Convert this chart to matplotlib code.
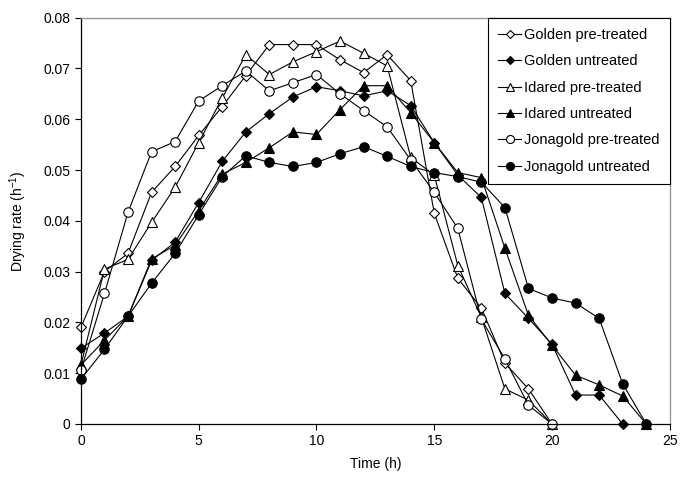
import matplotlib
matplotlib.use("Agg")
import matplotlib.pyplot as plt
from matplotlib.ticker import FuncFormatter

plt.rcParams['font.family'] = ['Liberation Sans', 'DejaVu Sans']
plt.rcParams['mathtext.fontset'] = 'custom'
plt.rcParams['mathtext.rm'] = 'Liberation Sans'
plt.rcParams['mathtext.it'] = 'Liberation Sans:italic'

hours_20 = list(range(0, 21))
hours_23 = list(range(0, 24))
hours_24 = list(range(0, 25))

golden_pre = [0.019, 0.030, 0.0336, 0.0456, 0.0507, 0.0568, 0.0625, 0.0686, 0.0747, 0.0747,
              0.0747, 0.0717, 0.0692, 0.0727, 0.0676, 0.0415, 0.0287, 0.0228, 0.012, 0.0069, 0.0]
golden_un = [0.0149, 0.0179, 0.0212, 0.0322, 0.0358, 0.0436, 0.0517, 0.0575, 0.0611, 0.0644,
             0.0664, 0.0656, 0.0646, 0.0656, 0.0627, 0.0554, 0.049, 0.0446, 0.0257, 0.0208,
             0.0157, 0.0057, 0.0057, 0.0]
idared_pre = [0.0116, 0.0305, 0.0324, 0.0397, 0.0466, 0.0554, 0.0642, 0.0727, 0.0688, 0.0713,
              0.0733, 0.0754, 0.073, 0.0705, 0.0525, 0.049, 0.0312, 0.021, 0.0069, 0.0047, 0.0]
idared_un = [0.0116, 0.0165, 0.0212, 0.0325, 0.0352, 0.042, 0.0492, 0.0515, 0.0544, 0.0575,
             0.057, 0.0619, 0.0666, 0.0666, 0.0613, 0.0554, 0.0495, 0.0485, 0.0346, 0.0214,
             0.0155, 0.0096, 0.0077, 0.0055, 0.0]
jona_pre = [0.0106, 0.0257, 0.0417, 0.0536, 0.0556, 0.0636, 0.0666, 0.0695, 0.0656, 0.0672,
            0.0688, 0.065, 0.0617, 0.0585, 0.052, 0.0456, 0.0385, 0.0206, 0.0128, 0.0037, 0.0]
jona_un = [0.0088, 0.0147, 0.0212, 0.0277, 0.0336, 0.0412, 0.0487, 0.0528, 0.0515, 0.0507,
           0.0515, 0.0532, 0.0546, 0.0527, 0.0507, 0.0495, 0.0487, 0.0476, 0.0426, 0.0267,
           0.0248, 0.0238, 0.0208, 0.0079, 0.0]

labels = ["Golden pre-treated", "Golden untreated", "Idared pre-treated",
          "Idared untreated", "Jonagold pre-treated", "Jonagold untreated"]

x_ticks = [0, 5, 10, 15, 20, 25]
y_ticks = [0, 0.01, 0.02, 0.03, 0.04, 0.05, 0.06, 0.07, 0.08]

fig = plt.figure(figsize=(6.8, 4.84), dpi=100)
ax = fig.add_axes([0.119, 0.124, 0.866, 0.8395])

series = [
    (hours_20, golden_pre, 'D', 'white', 5.0),
    (hours_23, golden_un, 'D', 'black', 5.0),
    (hours_20, idared_pre, '^', 'white', 6.5),
    (hours_24, idared_un, '^', 'black', 6.5),
    (hours_20, jona_pre, 'o', 'white', 6.8),
    (hours_24, jona_un, 'o', 'black', 6.8),
]
for (xs, ys, m, fc, ms), lab in zip(series, labels):
    ax.plot(xs, ys, color='black', linewidth=0.8, marker=m, markersize=ms,
            markerfacecolor=fc, markeredgecolor='black', markeredgewidth=0.8,
            label=lab, clip_on=False)

ax.set_xlim(0, 25)
ax.set_ylim(0, 0.08)
ax.set_xticks(x_ticks)
ax.set_yticks(y_ticks)
ax.yaxis.set_major_formatter(FuncFormatter(lambda v, p: '0' if abs(v) < 1e-12 else ('%.2f' % v)))
ax.tick_params(axis='both', direction='out', length=4, width=0.8, labelsize=10,
               color='black', top=False, right=False)
for s in ['left', 'bottom']:
    ax.spines[s].set_color('black')
    ax.spines[s].set_linewidth(0.9)
for s in ['top', 'right']:
    ax.spines[s].set_color('#9a9a9a')
    ax.spines[s].set_linewidth(1.0)

ax.set_xlabel('Time (h)', fontsize=10, labelpad=6)
ax.set_ylabel(r'Drying rate (h$^{-1}$)', fontsize=10, labelpad=10)

leg = ax.legend(loc='upper right', bbox_to_anchor=(1.0, 1.0), borderaxespad=0.0,
                fontsize=10.5, frameon=True, fancybox=False, framealpha=1.0,
                edgecolor='black', handlelength=1.6, handletextpad=0.2,
                labelspacing=0.85, borderpad=0.7, markerscale=0.85)
leg.get_frame().set_linewidth(0.8)

fig.savefig('out.png', dpi=100)
